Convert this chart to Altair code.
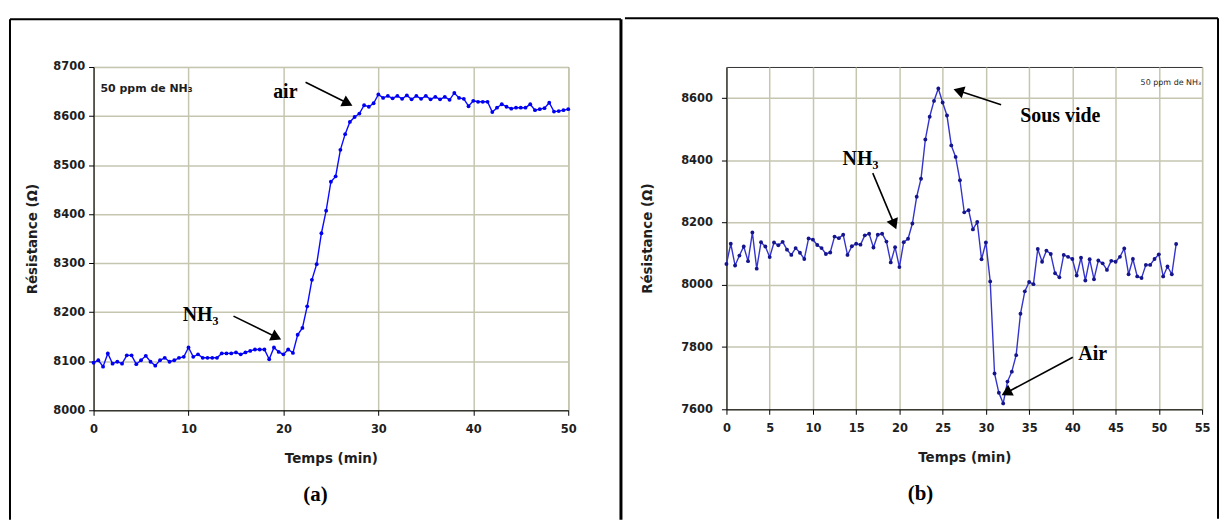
import math
import altair as alt
import pandas as pd

# ---------------- data : panel (a) ----------------
a_values = [8097, 8102, 8089, 8116, 8095, 8099, 8095, 8112, 8112, 8094,
            8102, 8111, 8099, 8091, 8102, 8107, 8099, 8102, 8107, 8109,
            8128, 8109, 8114, 8107, 8107, 8107, 8107, 8116, 8116, 8116,
            8118, 8114, 8118, 8121, 8124, 8124, 8124, 8104, 8128, 8119,
            8114, 8124, 8117, 8154, 8168, 8212,
            8266, 8298, 8361, 8407, 8466, 8477, 8531, 8563, 8588, 8598,
            8605, 8622, 8619, 8626,
            8644, 8637, 8641, 8636, 8641, 8635, 8642, 8634, 8641, 8635,
            8641, 8634, 8639, 8634, 8639, 8633, 8647, 8637, 8635, 8620,
            8631, 8629, 8629, 8629, 8608, 8617, 8624, 8619, 8615, 8617,
            8617, 8617, 8624, 8612, 8614, 8616, 8627, 8609, 8610, 8612,
            8614]
a_step = 0.5
a_xticks = [0, 10, 20, 30, 40, 50]
a_yticks = [8000, 8100, 8200, 8300, 8400, 8500, 8600, 8700]
a_xdomain = [0, 50]
a_ydomain = [8000, 8700]

a_labels = ["air", "NH₃"]
a_label_t = [20.2, 11.27]
a_label_v = [8637, 8182]
a_arrow_t0 = [22.33, 14.74]
a_arrow_v0 = [8669, 8192]
a_arrow_t1 = [27.29, 19.78]
a_arrow_v1 = [8621, 8144]
a_note = "50 ppm de NH₃"
a_note_t = 0.73
a_note_v = 8649

# ---------------- data : panel (b) ----------------
b_values = [8067, 8132, 8062, 8094, 8123, 8076, 8168, 8052, 8137, 8123,
            8089, 8136, 8127, 8138, 8113, 8096, 8118, 8103, 8083, 8149,
            8145, 8128, 8118, 8099, 8104, 8155, 8150, 8161, 8096, 8124,
            8132, 8129, 8159, 8164, 8120, 8161, 8164, 8139, 8072, 8121,
            8057, 8137, 8148, 8197, 8283, 8341, 8467, 8540, 8591, 8631,
            8586, 8544, 8448, 8411, 8336, 8233, 8240,
            8178, 8202, 8082, 8136, 8011, 7715, 7653, 7619, 7689, 7721,
            7774, 7907, 7979, 8009, 8002, 8115, 8074, 8110, 8099, 8037,
            8024, 8096, 8090, 8083, 8030, 8087, 8014, 8082, 8018, 8078,
            8069, 8048, 8077, 8074, 8090, 8117, 8034, 8083, 8027, 8022,
            8064, 8064, 8083, 8098, 8027, 8059, 8034, 8131]
b_step = 0.5
b_xticks = [0, 5, 10, 15, 20, 25, 30, 35, 40, 45, 50, 55]
b_yticks = [7600, 7800, 8000, 8200, 8400, 8600]
b_xdomain = [0, 55]
b_ydomain = [7600, 8700]

b_labels = ["NH₃", "Sous vide", "Air"]
b_label_t = [15.5, 38.6, 42.35]
b_label_v = [8386, 8524, 7757]
b_arrow_t0 = [16.92, 31.76, 40.05]
b_arrow_v0 = [8359, 8579, 7767]
b_arrow_t1 = [19.65, 26.24, 31.8]
b_arrow_v1 = [8178, 8629, 7645]
b_note = "50 ppm de NH₃"
b_note_t = 54.9
b_note_v = 8642

X_TITLE = "Temps (min)"
Y_TITLE = "Résistance (Ω)"

GRID = "#c6c6b0"
TXT = "#1e1e1e"


def panel(values, step, xdom, ydom, xticks, yticks, W, H,
          line_color, point_color, labels, lt, lv, at0, av0, at1, av1,
          note, note_t, note_v, note_align, note_size, note_weight,
          caption, cap_x, cap_y, frame, left_frame_opacity, right_frame_width,
          ylabpad, ytitlepad):
    times = [i * step for i in range(len(values))]
    df = pd.DataFrame({"t": times, "v": values})

    kx = W / (xdom[1] - xdom[0])
    ky = H / (ydom[1] - ydom[0])
    rows = []
    head_back = 5.5
    for t0, v0, t1, v1 in zip(at0, av0, at1, av1):
        dx = (t1 - t0) * kx
        dy = -(v1 - v0) * ky
        L = math.hypot(dx, dy)
        ux, uy = dx / L, dy / L
        ang = math.degrees(math.atan2(dx, -dy)) % 360
        tc = t1 - ux * head_back / kx
        vc = v1 + uy * head_back / ky
        rows.append({"t": t0, "v": v0, "t2": tc, "v2": vc, "tc": tc, "vc": vc, "ang": ang})
    arr = pd.DataFrame(rows)
    lab = pd.DataFrame({"t": lt, "v": lv, "label": labels})
    nt = pd.DataFrame({"t": [note_t], "v": [note_v], "label": [note]})
    one = pd.DataFrame({"k": [0]})

    xax = alt.Axis(values=xticks, title=X_TITLE, format="d", grid=True,
                   gridColor=GRID, gridWidth=1.5, domainColor="black",
                   tickColor="black", tickSize=5, labelFont="DejaVu Sans",
                   labelFontWeight="bold", labelFontSize=11.5, labelColor=TXT,
                   labelPadding=8, labelFlush=False, labelOverlap=False,
                   titleFont="DejaVu Sans", titleFontWeight="bold",
                   titleFontSize=13.5, titleColor=TXT, titlePadding=17)
    yax = alt.Axis(values=yticks, title=Y_TITLE, format="d", grid=True,
                   gridColor=GRID, gridWidth=1.5, domainColor="black",
                   tickColor="black", tickSize=5, labelFont="DejaVu Sans",
                   labelFontWeight="bold", labelFontSize=11.5, labelColor=TXT,
                   labelPadding=ylabpad, labelFlush=False, labelOverlap=False,
                   titleFont="DejaVu Sans", titleFontWeight="bold",
                   titleFontSize=13.5, titleColor=TXT, titlePadding=ytitlepad)
    xs = alt.Scale(domain=xdom, nice=False, zero=False)
    ys = alt.Scale(domain=ydom, nice=False, zero=False)

    base = alt.Chart(df)
    line = base.mark_line(color=line_color, strokeWidth=1.4).encode(
        x=alt.X("t:Q", scale=xs, axis=xax), y=alt.Y("v:Q", scale=ys, axis=yax))
    pts = base.mark_point(filled=True, size=15, color=point_color, opacity=1).encode(
        x="t:Q", y="v:Q")

    shafts = alt.Chart(arr).mark_rule(color="black", strokeWidth=1.6).encode(
        x="t:Q", y="v:Q", x2="t2:Q", y2="v2:Q")
    heads = alt.Chart(arr).mark_point(shape="triangle-up", filled=True, color="black",
                                      size=150, opacity=1).encode(
        x=alt.X("tc:Q"), y=alt.Y("vc:Q"), angle=alt.Angle("ang:Q", scale=None))
    texts = alt.Chart(lab).mark_text(font="Liberation Serif", fontWeight="bold",
                                     fontSize=20, color="black", align="center",
                                     baseline="alphabetic").encode(
        x="t:Q", y="v:Q", text="label:N")
    notes = alt.Chart(nt).mark_text(font="DejaVu Sans", fontWeight=note_weight,
                                    fontSize=note_size, color=TXT, align=note_align,
                                    baseline="alphabetic").encode(
        x="t:Q", y="v:Q", text="label:N")
    cap = alt.Chart(one).mark_text(font="Liberation Serif", fontWeight="bold",
                                   fontSize=21, color="black", align="center",
                                   baseline="middle").encode(
        x=alt.value(cap_x), y=alt.value(cap_y), text=alt.value(caption))
    fl, fr, ft, fb = frame
    top = alt.Chart(one).mark_rule(color="black", strokeWidth=2).encode(
        x=alt.value(fl), x2=alt.value(fr), y=alt.value(ft))
    left = alt.Chart(one).mark_rule(color="black", strokeWidth=2,
                                    strokeOpacity=left_frame_opacity).encode(
        x=alt.value(fl), y=alt.value(ft), y2=alt.value(fb))
    right = alt.Chart(one).mark_rule(color="black", strokeWidth=right_frame_width).encode(
        x=alt.value(fr), y=alt.value(ft), y2=alt.value(fb))

    return alt.layer(line, pts, shafts, heads, texts, notes, cap, top, left, right).properties(
        width=W, height=H)


pa = panel(a_values, a_step, a_xdomain, a_ydomain, a_xticks, a_yticks, 477, 345,
           "#0a0aff", "#0000f0", a_labels, a_label_t, a_label_v,
           a_arrow_t0, a_arrow_v0, a_arrow_t1, a_arrow_v1,
           a_note, a_note_t, a_note_v, "left", 11, "bold",
           "(a)", 223, 430, (-84, 530, -48, 455), 1, 3, 4, 13)
pb = panel(b_values, b_step, b_xdomain, b_ydomain, b_xticks, b_yticks, 478, 344,
           "#3434cc", "#14148c", b_labels, b_label_t, b_label_v,
           b_arrow_t0, b_arrow_v0, b_arrow_t1, b_arrow_v1,
           b_note, b_note_t, b_note_v, "right", 8, "normal",
           "(b)", 195, 429, (-102, 494, -49, 454), 0, 2, 9, 26)

chart = alt.hconcat(pa, pb, spacing=0).properties(
    padding={"left": 0, "top": 7, "right": 0, "bottom": 0},
    background="white",
).configure_view(stroke="#333333", strokeWidth=1)

chart.save("out.html", embed_options={"renderer": "svg", "actions": False})
